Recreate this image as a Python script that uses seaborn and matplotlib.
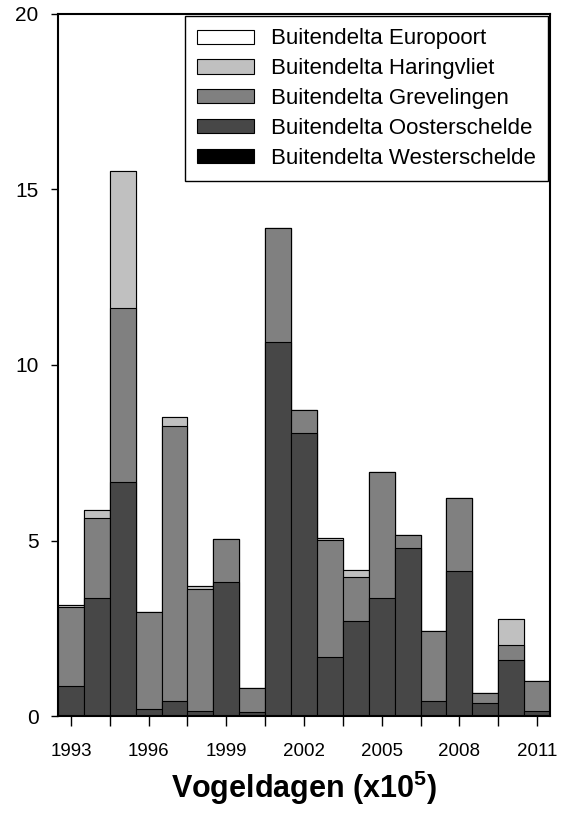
import numpy as np
import pandas as pd
import matplotlib
matplotlib.use("Agg")
import matplotlib.pyplot as plt
import seaborn as sns
from matplotlib.patches import Patch

years = list(range(1993, 2012))
westerschelde = [0, 0, 0, 0, 0, 0, 0, 0, 0, 0, 0, 0, 0, 0, 0, 0, 0, 0, 0]
oosterschelde = [0.86, 3.37, 6.66, 0.19, 0.42, 0.14, 3.83, 0.10, 10.65, 8.05,
                 1.67, 2.70, 3.37, 4.80, 0.42, 4.12, 0.37, 1.60, 0.13]
grevelingen = [2.24, 2.28, 4.97, 2.77, 7.83, 3.49, 1.21, 0.69, 3.24, 0.66,
               3.34, 1.27, 3.57, 0.37, 1.99, 2.08, 0.29, 0.43, 0.88]
haringvliet = [0.07, 0.23, 3.91, 0, 0.27, 0.06, 0, 0, 0, 0,
               0.05, 0.18, 0, 0, 0, 0, 0, 0.73, 0]
europoort = [0, 0, 0, 0, 0, 0, 0, 0, 0, 0, 0, 0, 0, 0, 0, 0, 0, 0, 0]

series_names = ["Buitendelta Westerschelde", "Buitendelta Oosterschelde",
                "Buitendelta Grevelingen", "Buitendelta Haringvliet",
                "Buitendelta Europoort"]
series_vals = [westerschelde, oosterschelde, grevelingen, haringvliet, europoort]
series_colors = ["#000000", "#474747", "#808080", "#c0c0c0", "#ffffff"]

sns.set_theme(style="white")
plt.rcParams["font.family"] = ["Liberation Sans", "DejaVu Sans"]
plt.rcParams["mathtext.fontset"] = "custom"
plt.rcParams["mathtext.rm"] = "Liberation Sans"
plt.rcParams["mathtext.bf"] = "Liberation Sans:bold"
for key in ["text.color", "axes.labelcolor", "xtick.color", "ytick.color",
            "axes.edgecolor"]:
    plt.rcParams[key] = "black"

fig = plt.figure(figsize=(5.67, 8.13), dpi=100)
ax = fig.add_axes([58 / 567, 97 / 813, 492 / 567, 702 / 813])

df = pd.DataFrame({"year": [str(y) for y in years]})
cum = np.zeros(len(years))
cums = []
for vals in series_vals:
    cum = cum + np.array(vals)
    cums.append(cum.copy())

# draw from the top of the stack downward so lower layers cover upper ones
for i in range(len(series_vals) - 1, -1, -1):
    d = df.copy()
    d["value"] = cums[i]
    sns.barplot(data=d, x="year", y="value", color=series_colors[i],
                saturation=1, width=1.0, edgecolor="black", linewidth=0.8,
                ax=ax, errorbar=None)

ax.set_xlim(-0.5, 18.5)
ax.set_ylim(0, 20)
major = list(range(0, 19, 3))
ax.set_xticks(major)
ax.set_xticklabels([str(years[i]) for i in major], fontsize=13.5)
ax.set_xticks([m + 1.5 for m in major[:-1]], minor=True)
ax.set_yticks([0, 5, 10, 15, 20])
ax.set_yticklabels(["0", "5", "10", "15", "20"], fontsize=15)
ax.tick_params(axis="x", which="both", direction="out", length=7.5, width=1,
               color="black", bottom=True, pad=12)
ax.tick_params(axis="y", direction="out", length=5, width=1, color="black",
               left=True, pad=9)
ax.set_ylabel("")
ax.set_xlabel("Vogeldagen (x10$^\\mathbf{5}$)", fontsize=22, fontweight="bold",
              labelpad=6)
for s in ax.spines.values():
    s.set_visible(True)
    s.set_color("black")
    s.set_linewidth(1.5)

legend_order = [4, 3, 2, 1, 0]
handles = [Patch(facecolor=series_colors[i], edgecolor="black", linewidth=0.8,
                 label=series_names[i]) for i in legend_order]
leg = ax.legend(handles=handles, loc="upper right", fontsize=16,
                frameon=True, fancybox=False, framealpha=1,
                edgecolor="black", borderaxespad=0.1, handlelength=2.55,
                handleheight=0.6, labelspacing=0.4, handletextpad=0.75,
                borderpad=0.55)
leg.get_frame().set_linewidth(1.0)

fig.savefig("out.png", dpi=100)
